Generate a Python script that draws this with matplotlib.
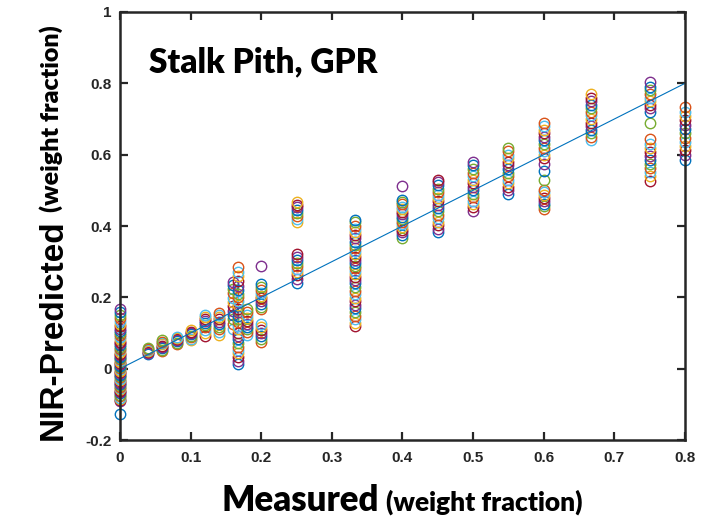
import matplotlib
matplotlib.use("Agg")
import matplotlib.pyplot as plt

# measured weight fraction for each group of samples
measured = [0.0, 0.04, 0.06, 0.08, 0.10, 0.12, 0.14, 0.16, 0.1667, 0.18,
            0.20, 0.25, 0.3333, 0.40, 0.45, 0.50, 0.55, 0.60, 0.6667, 0.75, 0.80]

# NIR-predicted weight fraction, one list per measured level
pred_000 = [-0.127, -0.092, -0.088, -0.084, -0.081, -0.077, -0.073, -0.069, -0.066,
            -0.062, -0.057, -0.054, -0.05, -0.046, -0.043, -0.039, -0.035, -0.031,
            -0.028, -0.024, -0.02, -0.017, -0.013, -0.009, -0.006, -0.002, 0.001,
            0.005, 0.008, 0.012, 0.015, 0.019, 0.023, 0.026, 0.03, 0.034, 0.038,
            0.042, 0.046, 0.051, 0.056, 0.061, 0.066, 0.071, 0.076, 0.082, 0.088,
            0.094, 0.1, 0.106, 0.112, 0.119, 0.126, 0.134, 0.142, 0.15, 0.159, 0.168]
pred_004 = [0.041, 0.045, 0.048, 0.05, 0.053, 0.055, 0.058]
pred_006 = [0.049, 0.053, 0.057, 0.06, 0.064, 0.068, 0.071, 0.075, 0.079]
pred_008 = [0.069, 0.073, 0.077, 0.08, 0.083, 0.086, 0.089]
pred_010 = [0.079, 0.084, 0.088, 0.092, 0.096, 0.1, 0.104, 0.108]
pred_012 = [0.092, 0.1, 0.109, 0.116, 0.122, 0.128, 0.134, 0.14, 0.146, 0.15]
pred_014 = [0.095, 0.103, 0.11, 0.118, 0.125, 0.132, 0.139, 0.145, 0.151, 0.156]
pred_016 = [0.11, 0.124, 0.139, 0.151, 0.163, 0.175, 0.187, 0.199, 0.211, 0.223,
            0.234, 0.242]
pred_0167 = [0.012, 0.022, 0.033, 0.043, 0.052, 0.062, 0.072, 0.082, 0.091, 0.1,
             0.11, 0.12, 0.13, 0.139, 0.149, 0.158, 0.168, 0.178, 0.189, 0.2,
             0.21, 0.221, 0.232, 0.245, 0.259, 0.272, 0.284]
pred_018 = [0.094, 0.102, 0.11, 0.118, 0.126, 0.134, 0.142, 0.15, 0.158, 0.166]
pred_020 = [0.076, 0.084, 0.092, 0.1, 0.108, 0.117, 0.126, 0.166, 0.173, 0.181,
            0.189, 0.197, 0.205, 0.213, 0.221, 0.229, 0.237, 0.289]
pred_025 = [0.24, 0.251, 0.262, 0.271, 0.28, 0.289, 0.297, 0.305, 0.313, 0.321,
            0.412, 0.42, 0.428, 0.436, 0.444, 0.452, 0.46, 0.467]
pred_033 = [0.119, 0.129, 0.139, 0.149, 0.159, 0.169, 0.179, 0.189, 0.199, 0.209,
            0.219, 0.229, 0.239, 0.248, 0.257, 0.265, 0.273, 0.281, 0.289, 0.297,
            0.305, 0.313, 0.321, 0.329, 0.338, 0.347, 0.356, 0.365, 0.374, 0.383,
            0.392, 0.401, 0.41, 0.418]
pred_040 = [0.366, 0.374, 0.382, 0.39, 0.398, 0.405, 0.412, 0.419, 0.426, 0.433,
            0.44, 0.447, 0.454, 0.461, 0.468, 0.474, 0.512]
pred_045 = [0.382, 0.392, 0.402, 0.412, 0.422, 0.432, 0.442, 0.451, 0.46, 0.469,
            0.478, 0.487, 0.496, 0.505, 0.514, 0.523, 0.53]
pred_050 = [0.442, 0.452, 0.462, 0.471, 0.48, 0.49, 0.5, 0.51, 0.52, 0.53, 0.54,
            0.55, 0.56, 0.57, 0.579]
pred_055 = [0.49, 0.5, 0.51, 0.52, 0.53, 0.54, 0.55, 0.56, 0.57, 0.58, 0.59,
            0.6, 0.61, 0.62]
pred_060 = [0.449, 0.456, 0.463, 0.47, 0.478, 0.486, 0.494, 0.502, 0.53, 0.555,
            0.575, 0.59, 0.6, 0.61, 0.62, 0.63, 0.64, 0.65, 0.66, 0.67, 0.68, 0.69]
pred_067 = [0.64, 0.65, 0.66, 0.67, 0.68, 0.69, 0.7, 0.71, 0.72, 0.73, 0.74,
            0.75, 0.76, 0.77]
pred_075 = [0.526, 0.54, 0.552, 0.563, 0.574, 0.585, 0.596, 0.607, 0.618, 0.63,
            0.645, 0.69, 0.72, 0.73, 0.74, 0.75, 0.76, 0.77, 0.78, 0.79, 0.804]
pred_080 = [0.586, 0.6, 0.612, 0.624, 0.636, 0.648, 0.66, 0.672, 0.684, 0.696,
            0.708, 0.72, 0.734]

predicted = [pred_000, pred_004, pred_006, pred_008, pred_010, pred_012, pred_014,
             pred_016, pred_0167, pred_018, pred_020, pred_025, pred_033, pred_040,
             pred_045, pred_050, pred_055, pred_060, pred_067, pred_075, pred_080]

xticks = [0, 0.1, 0.2, 0.3, 0.4, 0.5, 0.6, 0.7, 0.8]
yticks = [-0.2, 0, 0.2, 0.4, 0.6, 0.8, 1]
ref_line = [0, 0.8]

# MATLAB default colour order
colors = ["#0072BD", "#D95319", "#EDB120", "#7E2F8E", "#77AC30", "#4DBEEE", "#A2142F"]
axis_color = "#262626"

fig = plt.figure(figsize=(7.16, 5.24), dpi=100)
ax = fig.add_axes([0.1676, 0.1603, 0.7891, 0.8168])

k = 0
for x, ys in zip(measured, predicted):
    for y in ys:
        ax.plot(x, y, "o", mfc="none", mec=colors[k % len(colors)], ms=7.5,
                mew=1.0, clip_on=False, zorder=3)
        k += 3
    k += 1

ax.plot(ref_line, ref_line, color="#0072BD", lw=0.8, zorder=4)

ax.set_xlim(0, 0.8)
ax.set_ylim(-0.2, 1)
ax.set_xticks(xticks)
ax.set_yticks(yticks)
ax.set_xticklabels(["0", "0.1", "0.2", "0.3", "0.4", "0.5", "0.6", "0.7", "0.8"])
ax.set_yticklabels(["-0.2", "0", "0.2", "0.4", "0.6", "0.8", "1"])

for s in ax.spines.values():
    s.set_linewidth(1.8)
    s.set_color(axis_color)
    s.set_zorder(5)
ax.tick_params(direction="in", length=6, width=1.6, color=axis_color,
               top=True, right=True, labelcolor=axis_color)
ax.tick_params(axis="x", pad=8)
ax.tick_params(axis="y", pad=6)
for lab in ax.get_xticklabels() + ax.get_yticklabels():
    lab.set_fontfamily("Liberation Sans")
    lab.set_fontweight("bold")
    lab.set_fontsize(11)

ax.text(0.041, 0.86, "Stalk Pith, GPR", fontsize=24, fontweight="heavy",
        family="Lato", va="center", ha="left", color="black")

# x label in two sizes
fig.text(379 / 716, 1 - 511 / 524, "Measured", fontsize=25, fontweight="heavy",
         family="Lato", ha="right", va="baseline")
fig.text(386 / 716, 1 - 511 / 524, "(weight fraction)", fontsize=19, fontweight="heavy",
         family="Lato", ha="left", va="baseline")

# y label in two sizes
fig.text(62 / 716, 1 - 440 / 524, "NIR-Predicted", fontsize=24, fontweight="bold",
         family="Liberation Sans", rotation=90, rotation_mode="anchor",
         ha="left", va="baseline")
fig.text(59 / 716, 1 - 212 / 524, "(weight fraction)", fontsize=18, fontweight="heavy",
         family="Lato", rotation=90, rotation_mode="anchor",
         ha="left", va="baseline")

fig.savefig("out.png", dpi=100)
